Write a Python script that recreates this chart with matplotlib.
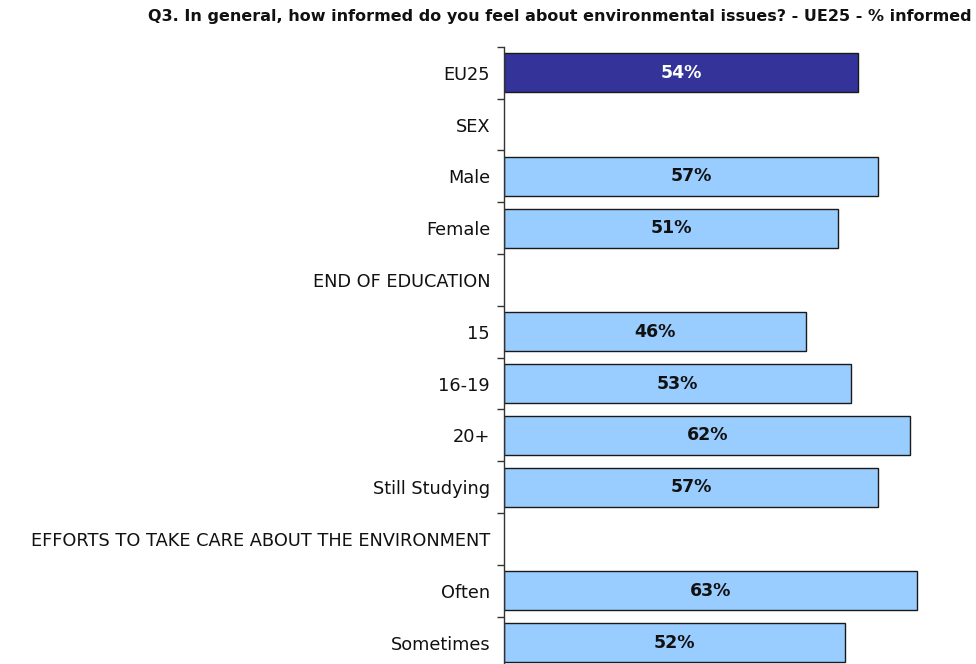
import matplotlib
matplotlib.use("Agg")
import matplotlib.pyplot as plt
import numpy as np

plt.rcParams["font.family"] = ["DejaVu Sans"]

categories = ["EU25", "SEX", "Male", "Female", "END OF EDUCATION", "15", "16-19",
              "20+", "Still Studying", "EFFORTS TO TAKE CARE ABOUT THE ENVIRONMENT",
              "Often", "Sometimes"]
values = [54, None, 57, 51, None, 46, 53, 62, 57, None, 63, 52]
highlight = ["EU25"]

title = "Q3. In general, how informed do you feel about environmental issues? - UE25 - % informed"

fig = plt.figure(figsize=(9.76, 6.64), dpi=100)
ax = fig.add_axes([504 / 976, -0.0068, 1 - 504 / 976, 0.9362])

n = len(categories)
ypos = np.arange(n)
for y, cat, v in zip(ypos, categories, values):
    if v is None:
        continue
    is_hl = cat in highlight
    ax.barh(y, v, height=0.75, color="#333399" if is_hl else "#99CCFF",
            edgecolor="#1a1a1a", linewidth=1.0)
    ax.text(v / 2, y, f"{v}%", ha="center", va="center", fontsize=12.5,
            fontweight="bold", color="white" if is_hl else "#111111")

ax.set_ylim(n - 0.5, -0.5)
ax.set_xlim(0, 72)
ax.set_yticks(ypos)
ax.set_yticklabels(categories, fontsize=12.8, color="#111111")
ax.set_yticks(np.arange(-0.5, n, 1.0), minor=True)
ax.tick_params(axis="y", which="major", length=0, pad=10)
ax.tick_params(axis="y", which="minor", length=5, width=1, color="#333333")
ax.set_xticks([])
for s in ["top", "right", "bottom"]:
    ax.spines[s].set_visible(False)
ax.spines["left"].set_color("#333333")
ax.spines["left"].set_linewidth(1)

fig.text(972 / 976, 1 - 16 / 664, title, ha="right", va="center",
         fontsize=11.5, fontweight="bold", color="#111111")

fig.savefig("out.png", dpi=100)
